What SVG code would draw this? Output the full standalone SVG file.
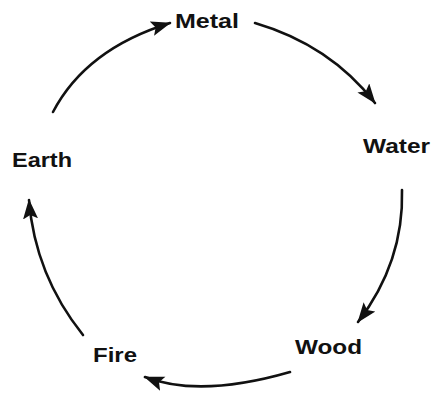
<svg xmlns="http://www.w3.org/2000/svg" width="432" height="396" viewBox="0 0 432 396">
<style>
.lbl{font-family:"Liberation Sans",Arial,sans-serif;font-weight:bold;font-size:20px;fill:#111}
.arc{fill:none;stroke:#111;stroke-width:2.6;stroke-linecap:round}
</style>
<defs>
<marker id="ah" markerUnits="userSpaceOnUse" markerWidth="22" markerHeight="16" refX="19" refY="7.5" orient="auto">
<path d="M0,0 L20,7.5 L0,15 L4,7.5 Z" fill="#111"/>
</marker>
</defs>
<rect width="432" height="396" fill="#fff"/>
<g id="connectors">
<path class="arc" d="M53,112 Q86,49 170,23" marker-end="url(#ah)"/>
<path class="arc" d="M255,23 Q330,45 375,103" marker-end="url(#ah)"/>
<path class="arc" d="M402,190 Q404,262 358,322" marker-end="url(#ah)"/>
<path class="arc" d="M290,372 Q200,398 145,377" marker-end="url(#ah)"/>
<path class="arc" d="M83,335 Q35,275 29,200" marker-end="url(#ah)"/>
</g>
<g id="metal"><text class="lbl" x="175" y="28" textLength="64" lengthAdjust="spacingAndGlyphs">Metal</text></g>
<g id="water"><text class="lbl" x="363" y="153" textLength="67" lengthAdjust="spacingAndGlyphs">Water</text></g>
<g id="wood"><text class="lbl" x="295" y="354" textLength="67" lengthAdjust="spacingAndGlyphs">Wood</text></g>
<g id="fire"><text class="lbl" x="93" y="362" textLength="44" lengthAdjust="spacingAndGlyphs">Fire</text></g>
<g id="earth"><text class="lbl" x="12" y="167" textLength="60" lengthAdjust="spacingAndGlyphs">Earth</text></g>
</svg>
